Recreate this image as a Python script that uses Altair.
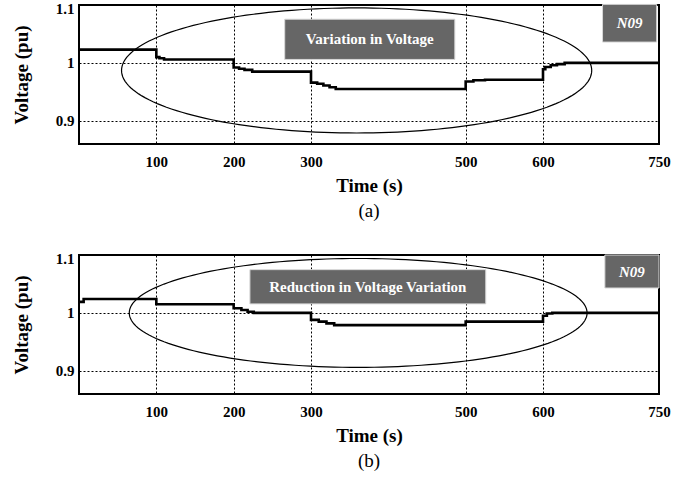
import altair as alt
import numpy as np
import pandas as pd

FONT = "Times New Roman, Liberation Serif, serif"

# ---- data ----
times_a = [0, 100, 104, 110, 200, 207, 214, 224, 300, 308, 316, 324, 332, 500, 510, 525, 600, 603, 610, 618, 628, 750]
volts_a = [1.023, 1.010, 1.008, 1.006, 0.992, 0.990, 0.988, 0.985, 0.966, 0.964, 0.961, 0.958, 0.955, 0.968, 0.970, 0.971, 0.989, 0.993, 0.996, 0.998, 1.000, 1.000]

times_b = [0, 6, 100, 200, 210, 218, 226, 300, 310, 320, 330, 500, 600, 605, 612, 750]
volts_b = [1.019, 1.024, 1.015, 1.008, 1.005, 1.002, 1.000, 0.988, 0.985, 0.982, 0.979, 0.985, 0.995, 0.999, 1.000, 1.000]

x_ticks = [100, 200, 300, 500, 600, 750]
y_ticks = [0.9, 1.0, 1.1]

# ellipse annotations: centre (time, pu) and radii
ellipse_a = [359, 0.987, 304, 0.108]
ellipse_b = [361, 1.000, 296, 0.094]

# label boxes: [t0, t1, v0, v1]
box_a = [266, 486, 1.006, 1.0755]
box_b = [221, 526, 1.0156, 1.0747]
tag_a = [677, 747, 1.036, 1.101]
tag_b = [680, 750, 1.043, 1.100]

text_a = "Variation in Voltage"
text_b = "Reduction in Voltage Variation"
tag_text = "N09"
captions = ["(a)", "(b)"]


def panel(times, volts, ell, box, box_text, tagbox, caption):
    xs = alt.Scale(domain=[0, 750], nice=False, zero=False)
    ys = alt.Scale(domain=[0.86, 1.1], nice=False, zero=False)
    xa = alt.Axis(values=x_ticks, title="Time (s)", grid=True, gridDash=[2, 2],
                  gridColor="black", gridOpacity=1, gridWidth=1, domain=False,
                  ticks=False, labelFont=FONT, labelFontWeight="bold",
                  labelFontSize=15, labelColor="black", labelPadding=10,
                  labelFlush=False, titleFont=FONT, titleFontSize=19,
                  titleFontWeight="bold", titleColor="black", titlePadding=7)
    ya = alt.Axis(values=y_ticks, title="Voltage (pu)", format="~g", grid=True,
                  gridDash=[2, 2], gridColor="black", gridOpacity=1, gridWidth=1,
                  domain=False, ticks=False, labelFont=FONT, labelFontWeight="bold",
                  labelFontSize=15, labelColor="black", labelPadding=5,
                  labelFlush=True, labelFlushOffset=4, titleFont=FONT,
                  titleFontSize=19, titleFontWeight="bold", titleColor="black",
                  titlePadding=24)

    df = pd.DataFrame({"t": times, "v": volts})
    line = alt.Chart(df).mark_line(interpolate="step-after", color="black",
                                   strokeWidth=2.6).encode(
        x=alt.X("t:Q", scale=xs, axis=xa),
        y=alt.Y("v:Q", scale=ys, axis=ya))

    th = np.linspace(0, 2 * np.pi, 181)
    edf = pd.DataFrame({"ex": ell[0] + ell[2] * np.cos(th),
                        "ey": ell[1] + ell[3] * np.sin(th),
                        "k": np.arange(len(th))})
    ellipse = alt.Chart(edf).mark_line(color="black", strokeWidth=1.2).encode(
        x=alt.X("ex:Q", scale=xs), y=alt.Y("ey:Q", scale=ys), order="k:Q")

    bdf = pd.DataFrame({"x0": [box[0], tagbox[0]], "x1": [box[1], tagbox[1]],
                        "y0": [box[2], tagbox[2]], "y1": [box[3], tagbox[3]],
                        "xc": [(box[0] + box[1]) / 2, (tagbox[0] + tagbox[1]) / 2],
                        "yc": [(box[2] + box[3]) / 2, (tagbox[2] + tagbox[3]) / 2],
                        "lab": [box_text, tag_text]})
    rects = alt.Chart(bdf).mark_rect(fill="#666666", stroke="#d8d8d8",
                                     strokeWidth=1).encode(
        x=alt.X("x0:Q", scale=xs), x2="x1:Q",
        y=alt.Y("y0:Q", scale=ys), y2="y1:Q")
    t1 = alt.Chart(bdf.iloc[[0]]).mark_text(color="white", font=FONT,
                                           fontWeight="bold", fontSize=15).encode(
        x=alt.X("xc:Q", scale=xs), y=alt.Y("yc:Q", scale=ys), text="lab:N")
    t2 = alt.Chart(bdf.iloc[[1]]).mark_text(color="white", font=FONT,
                                           fontWeight="bold", fontStyle="italic",
                                           fontSize=15).encode(
        x=alt.X("xc:Q", scale=xs), y=alt.Y("yc:Q", scale=ys), text="lab:N")

    return alt.layer(line, ellipse, rects, t1, t2).properties(
        width=580, height=139,
        title=alt.TitleParams(caption, orient="bottom", font=FONT, fontSize=19,
                              fontWeight="normal", color="black",
                              anchor="middle", offset=7))


top = panel(times_a, volts_a, ellipse_a, box_a, text_a, tag_a, captions[0])
bot = panel(times_b, volts_b, ellipse_b, box_b, text_b, tag_b, captions[1])

chart = alt.vconcat(top, bot, spacing=28).properties(
    padding={"left": 11, "top": 0, "right": 5, "bottom": 0},
    background="white"
).configure_view(stroke="black", strokeWidth=2)

chart.save("out.html", embed_options={"renderer": "svg", "actions": False})
